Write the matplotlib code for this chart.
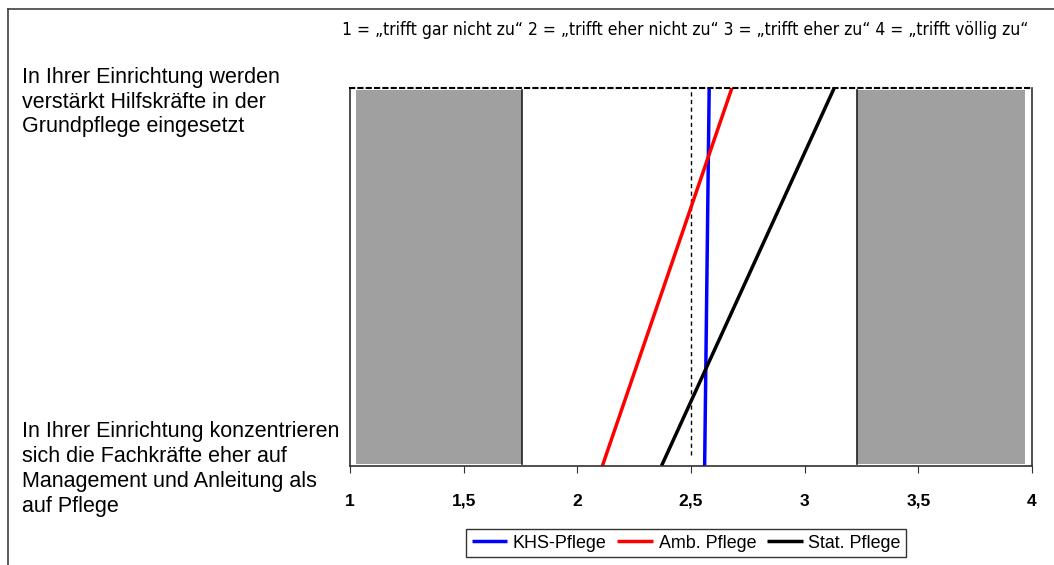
import matplotlib.pyplot as plt
from matplotlib.lines import Line2D

plt.rcParams['font.family'] = ['Liberation Sans', 'DejaVu Sans']

# data: mean rating per item (top item, bottom item)
series = ['KHS-Pflege', 'Amb. Pflege', 'Stat. Pflege']
colors = ['#0000FF', '#FF0000', '#000000']
top_item = [2.58, 2.68, 3.13]
bottom_item = [2.56, 2.11, 2.37]
items = ['In Ihrer Einrichtung werden\nverstärkt Hilfskräfte in der\nGrundpflege eingesetzt',
         'In Ihrer Einrichtung konzentrieren\nsich die Fachkräfte eher auf\nManagement und Anleitung als\nauf Pflege']
xticks = [1, 1.5, 2, 2.5, 3, 3.5, 4]
xticklabels = ['1', '1,5', '2', '2,5', '3', '3,5', '4']
band_left = (1.026, 1.756)
band_right = (3.229, 3.971)
header = '1 = „trifft gar nicht zu“ 2 = „trifft eher nicht zu“ 3 = „trifft eher zu“ 4 = „trifft völlig zu“'

fig = plt.figure(figsize=(10.54, 5.65), dpi=100)
ax = fig.add_axes([350 / 1054, 1 - 466 / 565, 682 / 1054, 378 / 565])

# gray bands
for lo, hi in [band_left, band_right]:
    ax.axvspan(lo, hi, ymin=0.005, ymax=0.995, color='#A0A0A0', lw=0)
ax.axvline(band_left[1], ymin=0.005, ymax=0.995, color='#202020', lw=1.2)
ax.axvline(band_right[0], ymin=0.005, ymax=0.995, color='#202020', lw=1.2)

# reference line at 2.5
ax.axvline(2.5, ymin=0.03, ymax=1, color='black', lw=1, ls=(0, (3, 2.5)))

for name, c, t, b in zip(series, colors, top_item, bottom_item):
    ax.plot([b, t], [0, 1], color=c, lw=2.5, label=name, solid_capstyle='butt')

ax.set_xlim(1, 4)
ax.set_ylim(0, 1)
ax.set_xticks(xticks)
ax.set_xticklabels(xticklabels, fontweight='bold', fontsize=12.5)
ax.tick_params(axis='x', direction='out', length=5, pad=15, color='#303030')
ax.set_yticks([])
for s in ['left', 'bottom', 'right']:
    ax.spines[s].set_color('#303030')
    ax.spines[s].set_linewidth(1.2)
ax.spines['top'].set_linestyle((0, (2, 2)))
ax.spines['top'].set_color('black')
ax.spines['top'].set_linewidth(1.5)

# item labels
fig.text(22 / 1054, 1 - 102 / 565, items[0], fontsize=15.5, va='center', ha='left', linespacing=1.24)
fig.text(22 / 1054, 1 - 469 / 565, items[1], fontsize=15.5, va='center', ha='left', linespacing=1.24)

fig.text(1028 / 1054, 1 - 30 / 565, header, fontsize=12.5, ha='right', va='center',
         family='DejaVu Sans', fontstretch='condensed')

leg = ax.legend(loc='center', bbox_to_anchor=(686 / 1054, 1 - 543 / 565),
                bbox_transform=fig.transFigure, ncol=3, frameon=True, fancybox=False,
                fontsize=12.9, handlelength=2.0, handletextpad=0.3, columnspacing=0.6,
                borderpad=0.3, borderaxespad=0)
leg.get_frame().set_edgecolor('black')
leg.get_frame().set_linewidth(1)

# outer frame
fig.add_artist(Line2D([8 / 1054, 8 / 1054], [0, 1 - 9 / 565], color='#404040', lw=1.2))
fig.add_artist(Line2D([8 / 1054, 1], [1 - 9 / 565, 1 - 9 / 565], color='#404040', lw=1.2))

fig.savefig('out.png', dpi=100)
